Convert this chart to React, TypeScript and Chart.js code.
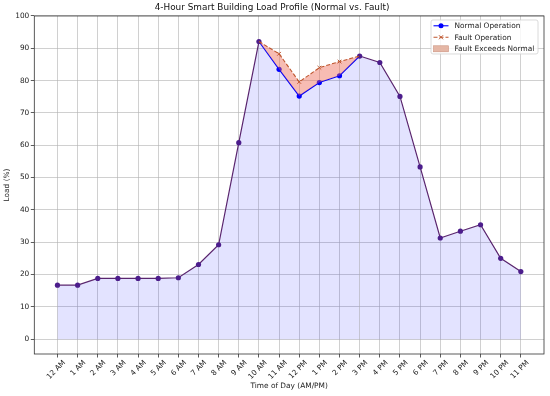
import React, { useEffect, useRef } from "react";
import { Chart, registerables } from "chart.js";

Chart.register(...registerables);

const hourLabels = [
  "12 AM", "1 AM", "2 AM", "3 AM", "4 AM", "5 AM", "6 AM", "7 AM", "8 AM", "9 AM", "10 AM", "11 AM",
  "12 PM", "1 PM", "2 PM", "3 PM", "4 PM", "5 PM", "6 PM", "7 PM", "8 PM", "9 PM", "10 PM", "11 PM",
];
const normalLoad = [
  16.7, 16.7, 18.8, 18.8, 18.8, 18.8, 19.0, 23.1, 29.2, 60.8, 92.1, 83.5,
  75.2, 79.4, 81.5, 87.6, 85.6, 75.1, 53.3, 31.3, 33.4, 35.4, 25.0, 20.9,
];
const faultLoad = [
  16.7, 16.7, 18.8, 18.8, 18.8, 18.8, 19.0, 23.1, 29.2, 60.8, 92.1, 88.3,
  79.6, 84.0, 85.9, 87.6, 85.6, 75.1, 53.3, 31.3, 33.4, 35.4, 25.0, 20.9,
];
const yTickStep = 10;
const titleText = "4-Hour Smart Building Load Profile (Normal vs. Fault)";
const xTitle = "Time of Day (AM/PM)";
const yTitle = "Load (%)";
const legendLabels = ["Normal Operation", "Fault Operation", "Fault Exceeds Normal"];

const FONT = "'DejaVu Sans', sans-serif";
const BLUE = "#0000ff";
const FAULT = "rgb(190,85,45)";
const OVERLAP_LINE = "#5a256e";
const OVERLAP_POINT = "#4c1d8c";
const NORMAL_FILL = "rgba(0,0,255,0.11)";
const EXCEED_FILL = "rgba(235,95,75,0.42)";

const same = (i: number) => Math.abs(normalLoad[i] - faultLoad[i]) < 1e-9;

const borderPlugin = {
  id: "frame",
  afterDatasetsDraw(chart: any) {
    const { ctx, chartArea: a } = chart;
    ctx.save();
    ctx.strokeStyle = "#333";
    ctx.lineWidth = 0.8;
    ctx.strokeRect(a.left, a.top, a.right - a.left, a.bottom - a.top);
    ctx.restore();
  },
};

const legendPlugin = {
  id: "insideLegend",
  afterDraw(chart: any) {
    const { ctx, chartArea: a } = chart;
    const bx = a.right - 113;
    const by = a.top + 4;
    const bw = 107;
    const bh = 34;
    ctx.save();
    ctx.beginPath();
    if (ctx.roundRect) ctx.roundRect(bx, by, bw, bh, 2);
    else ctx.rect(bx, by, bw, bh);
    ctx.fillStyle = "rgba(255,255,255,0.85)";
    ctx.fill();
    ctx.strokeStyle = "#d0d0d0";
    ctx.lineWidth = 0.8;
    ctx.stroke();
    const hx0 = bx + 2.5;
    const hx1 = hx0 + 15;
    const hc = (hx0 + hx1) / 2;
    const rows = [by + 5.8, by + 17.3, by + 28.8];
    // row 1
    ctx.strokeStyle = BLUE;
    ctx.lineWidth = 1.1;
    ctx.setLineDash([]);
    ctx.beginPath();
    ctx.moveTo(hx0, rows[0]);
    ctx.lineTo(hx1, rows[0]);
    ctx.stroke();
    ctx.fillStyle = BLUE;
    ctx.beginPath();
    ctx.arc(hc, rows[0], 2.5, 0, Math.PI * 2);
    ctx.fill();
    // row 2
    ctx.strokeStyle = FAULT;
    ctx.setLineDash([4, 2]);
    ctx.beginPath();
    ctx.moveTo(hx0, rows[1]);
    ctx.lineTo(hx1, rows[1]);
    ctx.stroke();
    ctx.setLineDash([]);
    ctx.lineWidth = 1;
    ctx.beginPath();
    ctx.moveTo(hc - 2, rows[1] - 2);
    ctx.lineTo(hc + 2, rows[1] + 2);
    ctx.moveTo(hc - 2, rows[1] + 2);
    ctx.lineTo(hc + 2, rows[1] - 2);
    ctx.stroke();
    // row 3
    ctx.fillStyle = "rgba(225,170,150,0.85)";
    ctx.fillRect(hx0, rows[2] - 3, hx1 - hx0, 6);
    ctx.strokeStyle = "rgba(200,140,120,0.9)";
    ctx.lineWidth = 0.6;
    ctx.strokeRect(hx0, rows[2] - 3, hx1 - hx0, 6);
    // text
    ctx.fillStyle = "#222";
    ctx.font = `7.4px ${FONT}`;
    ctx.textBaseline = "middle";
    ctx.textAlign = "left";
    legendLabels.forEach((t, i) => ctx.fillText(t, hx1 + 6, rows[i] + 0.3));
    ctx.restore();
  },
};

export default function App() {
  const ref = useRef<HTMLCanvasElement | null>(null);

  useEffect(() => {
    document.body.style.margin = "0";
    if (!ref.current) return;
    const normalPts = normalLoad.map((v, i) => ({ x: i, y: v }));
    const faultPts = faultLoad.map((v, i) => ({ x: i, y: v }));
    const chart = new Chart(ref.current, {
      type: "line",
      data: {
        datasets: [
          {
            label: legendLabels[0],
            data: normalPts,
            borderColor: BLUE,
            borderWidth: 1.2,
            pointStyle: "circle",
            pointRadius: 2.6,
            pointBorderWidth: 0,
            pointBackgroundColor: (c: any) => (same(c.dataIndex) ? OVERLAP_POINT : BLUE),
            pointBorderColor: (c: any) => (same(c.dataIndex) ? OVERLAP_POINT : BLUE),
            fill: { target: "origin", above: NORMAL_FILL, below: NORMAL_FILL },
            backgroundColor: NORMAL_FILL,
            tension: 0,
            segment: {
              borderColor: (c: any) =>
                same(c.p0DataIndex) && same(c.p1DataIndex) ? OVERLAP_LINE : BLUE,
            },
            order: 2,
          },
          {
            label: legendLabels[1],
            data: faultPts,
            borderColor: FAULT,
            borderWidth: 1.1,
            borderDash: [4, 2],
            pointStyle: "crossRot",
            pointRadius: (c: any) => (same(c.dataIndex) ? 0 : 2.6),
            pointBorderWidth: 1,
            pointBorderColor: FAULT,
            pointBackgroundColor: FAULT,
            fill: { target: 0, above: EXCEED_FILL, below: "rgba(0,0,0,0)" },
            backgroundColor: EXCEED_FILL,
            tension: 0,
            segment: {
              borderColor: (c: any) =>
                same(c.p0DataIndex) && same(c.p1DataIndex) ? "rgba(0,0,0,0)" : FAULT,
            },
            order: 1,
          },
        ],
      },
      options: {
        animation: false,
        responsive: false,
        maintainAspectRatio: false,
        layout: { padding: { left: 0, right: 6, top: 0, bottom: 0 } },
        plugins: {
          legend: { display: false },
          tooltip: { enabled: false },
          title: {
            display: true,
            text: titleText,
            color: "#111",
            font: { family: FONT, size: 8.9, weight: "normal" },
            padding: { top: 2, bottom: 3.3 },
          },
        },
        scales: {
          x: {
            type: "linear",
            min: -1.15,
            max: 24.15,
            afterBuildTicks: (s: any) => {
              s.ticks = s.ticks.filter((t: any) => t.value >= 0 && t.value <= 23);
            },
            afterFit: (s: any) => {
              s.height = 42;
            },
            ticks: {
              stepSize: 1,
              autoSkip: false,
              includeBounds: false,
              maxRotation: 45,
              minRotation: 45,
              labelOffset: 7,
              padding: 1,
              color: "#222",
              font: { family: FONT, size: 7.4 },
              callback: (v: any) => hourLabels[Math.round(Number(v))] ?? "",
            },
            grid: { color: "rgba(176,176,176,0.75)", lineWidth: 0.8, tickLength: 3.5, tickColor: "#333" },
            border: { display: false },
            title: {
              display: true,
              text: xTitle,
              color: "#222",
              font: { family: FONT, size: 7.4 },
              padding: { top: 0, bottom: 5 },
            },
          },
          y: {
            min: -4.6,
            max: 100,
            afterFit: (s: any) => {
              s.width = 34.3;
            },
            ticks: {
              stepSize: yTickStep,
              includeBounds: false,
              padding: 1.5,
              color: "#222",
              font: { family: FONT, size: 7.4 },
            },
            grid: { color: "rgba(176,176,176,0.75)", lineWidth: 0.8, tickLength: 3.5, tickColor: "#333" },
            border: { display: false },
            title: {
              display: true,
              text: yTitle,
              color: "#222",
              font: { family: FONT, size: 7.4 },
              padding: { top: 2.5, bottom: 0 },
            },
          },
        },
      },
      plugins: [borderPlugin, legendPlugin],
    } as any);
    return () => chart.destroy();
  }, []);

  return (
    <div style={{ position: "fixed", left: 0, top: 0, width: 550, height: 396, background: "#fff" }}>
      <canvas ref={ref} width={550} height={396} style={{ width: 550, height: 396, display: "block" }} />
    </div>
  );
}
